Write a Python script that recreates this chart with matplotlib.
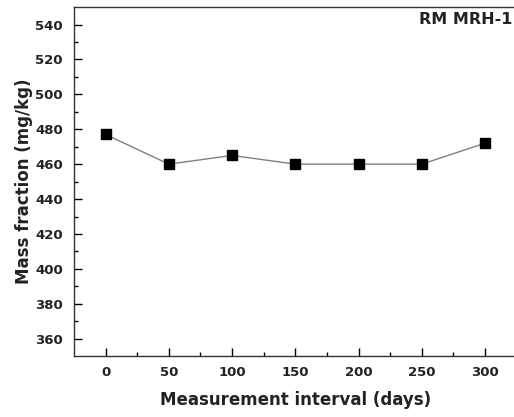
import matplotlib.pyplot as plt

days = [0, 50, 100, 150, 200, 250, 300]
mass_fraction = [477, 460, 465, 460, 460, 460, 472]
y_ticks = [360, 380, 400, 420, 440, 460, 480, 500, 520, 540]
x_ticks = [0, 50, 100, 150, 200, 250, 300]

fig = plt.figure(figsize=(5.14, 4.17), dpi=100)
ax = fig.add_axes([0.144, 0.146, 0.861, 0.837])

ax.plot(days, mass_fraction, color='#808080', lw=1.0, marker='s',
        markersize=6.5, markerfacecolor='black', markeredgecolor='black')

ax.set_xlim(-25, 325)
ax.set_ylim(350, 550)
ax.set_xticks(x_ticks)
ax.set_yticks(y_ticks)
ax.set_xticks([25, 75, 125, 175, 225, 275], minor=True)
ax.set_yticks([370, 390, 410, 430, 450, 470, 490, 510, 530], minor=True)
ax.tick_params(which='both', direction='in', top=False, right=False, width=1.0)
ax.tick_params(which='major', length=6)
ax.tick_params(which='minor', length=3)
ax.tick_params(axis='y', pad=8)
ax.tick_params(axis='x', pad=7)
for lab in ax.get_xticklabels() + ax.get_yticklabels():
    lab.set_fontweight('bold')
    lab.set_fontsize(9.5)
    lab.set_color('#222222')

for sp in ax.spines.values():
    sp.set_linewidth(1.0)
    sp.set_color('#333333')

ax.set_xlabel("Measurement interval (days)", fontsize=12, fontweight='bold',
              color='#222222', labelpad=9)
ax.set_ylabel("Mass fraction (mg/kg)", fontsize=12, fontweight='bold',
              color='#222222', labelpad=1.5)
ax.text(0.99, 0.985, "RM MRH-1", transform=ax.transAxes, ha='right', va='top',
        fontsize=11.5, fontweight='bold', color='#222222')

fig.savefig("out.png", dpi=100)
